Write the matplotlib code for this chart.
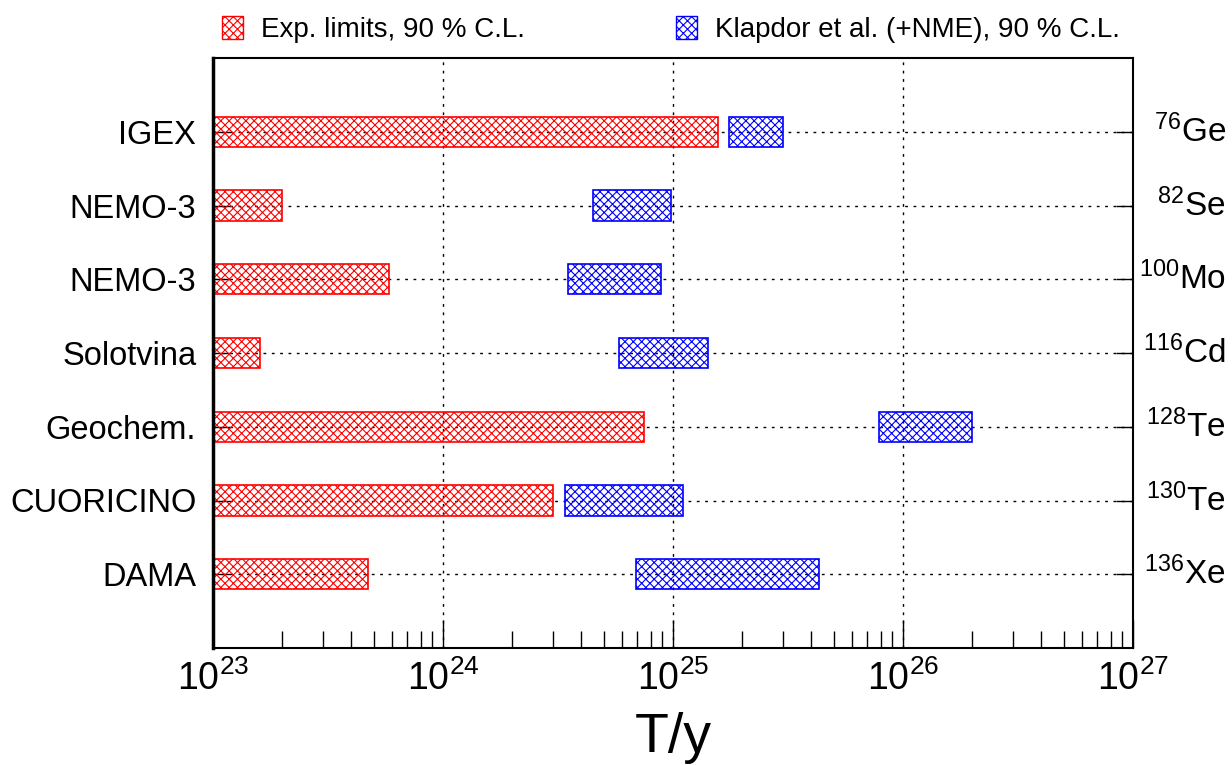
import numpy as np
import matplotlib
matplotlib.use('Agg')
import matplotlib.pyplot as plt
from matplotlib.patches import Patch
from matplotlib.ticker import LogLocator, LogFormatterMathtext, NullFormatter

plt.rcParams['font.family'] = ['Liberation Sans', 'DejaVu Sans']
plt.rcParams['mathtext.default'] = 'regular'
plt.rcParams['hatch.linewidth'] = 0.8

# data
experiments = ['IGEX', 'NEMO-3', 'NEMO-3', 'Solotvina', 'Geochem.', 'CUORICINO', 'DAMA']
mass_numbers = ['76', '82', '100', '116', '128', '130', '136']
elements = ['Ge', 'Se', 'Mo', 'Cd', 'Te', 'Te', 'Xe']
exp_limits = [1.57e25, 2.0e23, 5.8e23, 1.6e23, 7.5e24, 3.0e24, 4.7e23]
klapdor_lo = [1.75e25, 4.5e24, 3.5e24, 5.8e24, 7.9e25, 3.4e24, 6.9e24]
klapdor_hi = [3.0e25, 9.8e24, 8.9e24, 1.42e25, 2.0e26, 1.11e25, 4.3e25]

xmin, xmax = 1e23, 1e27
rows = np.arange(1, len(experiments) + 1)

fig = plt.figure(figsize=(12.32, 7.65), dpi=100)
ax = fig.add_axes([213 / 1232, 1 - 648 / 765, 920 / 1232, 590 / 765])
ax.set_xscale('log')
ax.set_xlim(xmin, xmax)
ax.set_ylim(8, 0)

# grid lines first, bars are see-through hatches
ax.set_axisbelow(True)
ax.grid(True, which='major', color='black', linestyle=(0, (2, 4)), linewidth=1.0)

h = 0.41
ax.barh(rows, np.array(exp_limits) - xmin, left=xmin, height=h,
        facecolor='none', edgecolor='red', hatch='xxxx', linewidth=1.2)
ax.barh(rows, np.array(klapdor_hi) - np.array(klapdor_lo), left=klapdor_lo, height=h,
        facecolor='none', edgecolor='blue', hatch='xxxx', linewidth=1.2)

ax.set_yticks(rows)
ax.set_yticklabels(experiments, fontsize=23.5)
ax.tick_params(axis='y', direction='in', length=12, width=1, pad=12, right=True)

for r, a, el in zip(rows, mass_numbers, elements):
    ax.text(1.101, r, r'$^{%s}$%s' % (a, el), transform=ax.get_yaxis_transform(),
            ha='right', va='center', fontsize=24)

ax.xaxis.set_major_locator(LogLocator(base=10, numticks=10))
ax.xaxis.set_major_formatter(LogFormatterMathtext())
ax.xaxis.set_minor_locator(LogLocator(base=10, subs=np.arange(2, 10), numticks=20))
ax.xaxis.set_minor_formatter(NullFormatter())
ax.tick_params(axis='x', which='major', direction='in', length=20, width=1, labelsize=27, pad=9)
ax.tick_params(axis='x', which='minor', direction='in', length=12, width=1)
ax.set_xlabel('T/y', fontsize=40, labelpad=10)

for s in ax.spines.values():
    s.set_linewidth(1.5)
ax.spines['left'].set_linewidth(2.5)

handles = [Patch(facecolor='white', edgecolor='red', hatch='xxxx', label='Exp. limits, 90 % C.L.'),
           Patch(facecolor='white', edgecolor='blue', hatch='xxxx', label='Klapdor et al. (+NME), 90 % C.L.')]
fig.legend(handles=handles, loc='upper left', bbox_to_anchor=(0.160, 1.012), ncol=2,
           frameon=False, fontsize=20, handlelength=0.75, handleheight=0.9,
           handletextpad=0.65, columnspacing=5.45)

fig.savefig('out.png', dpi=100)
